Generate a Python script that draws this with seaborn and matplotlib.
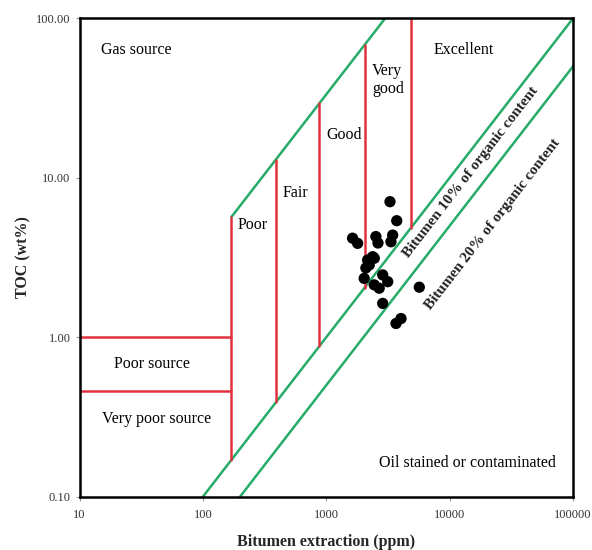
import numpy as np
import pandas as pd
import matplotlib
matplotlib.use("Agg")
import matplotlib.pyplot as plt
import seaborn as sns

# ---- data ----
bitumen_ppm = [3283, 3724, 1633, 1795, 2523, 2624, 3451, 3342, 2377, 2229,
               2028, 2866, 3148, 2449, 2685, 5675, 2866, 3673, 4033, 2094,
               2449, 2163]
toc_wt = [7.08, 5.38, 4.18, 3.88, 4.28, 3.90, 4.37, 3.97, 3.20, 2.84,
          2.34, 2.46, 2.23, 2.13, 2.03, 2.06, 1.63, 1.22, 1.31, 2.72,
          3.13, 3.05]

class_bounds_ppm = [170, 390, 880, 2050, 4850]   # Poor | Fair | Good | Very good | Excellent
toc_bounds = [1.0, 0.46]                         # Poor source / Very poor source limits
upper_ratio = 30      # upper boundary: ppm = 30 * TOC
ratio_10 = 1000       # Bitumen 10 % of organic content: ppm = 1000 * TOC
ratio_20 = 2000       # Bitumen 20 % of organic content: ppm = 2000 * TOC

x_ticks = [10, 100, 1000, 10000, 100000]
x_ticklabels = ["10", "100", "1000", "10000", "100000"]
y_ticks = [0.1, 1, 10, 100]
y_ticklabels = ["0.10", "1.00", "10.00", "100.00"]

# ---- style ----
sns.set_theme(style="white")
plt.rcParams['font.family'] = ['Liberation Serif', 'DejaVu Serif']

RED = "#e2323f"
GREEN = "#26ab68"

fig = plt.figure(figsize=(5.92, 5.5), dpi=100)
ax = fig.add_axes([0.1343, 0.0969, 0.968 - 0.1343, 0.9667 - 0.0969])
ax.set_xscale("log")
ax.set_yscale("log")
xmin, xmax = x_ticks[0], x_ticks[-1]
ymin, ymax = y_ticks[0], y_ticks[-1]
ax.set_xlim(xmin, xmax)
ax.set_ylim(ymin, ymax)

# green ratio lines
for r in (ratio_10, ratio_20):
    xs = np.array([ymin * r, min(xmax, ymax * r)])
    ax.plot(xs, xs / r, color=GREEN, lw=1.8, zorder=2)
xs_up = np.array([class_bounds_ppm[0], ymax * upper_ratio])
ax.plot(xs_up, xs_up / upper_ratio, color=GREEN, lw=1.8, zorder=2)

# red vertical class boundaries (from 10 % line up to upper boundary)
for b in class_bounds_ppm:
    ax.plot([b, b], [b / ratio_10, min(ymax, b / upper_ratio)], color=RED, lw=1.8, zorder=2)

# red horizontal TOC limits
for t in toc_bounds:
    ax.plot([xmin, class_bounds_ppm[0]], [t, t], color=RED, lw=1.8, zorder=2)

# points
df = pd.DataFrame({"Bitumen": bitumen_ppm, "TOC": toc_wt})
sns.scatterplot(data=df, x="Bitumen", y="TOC", ax=ax, color="black", s=66,
                edgecolor="none", zorder=3, legend=False)

# region labels
tk = dict(fontsize=11.5, color="black", zorder=4)
ax.text(15, 63, "Gas source", ha="left", va="center", **tk)
ax.text(7345, 63, "Excellent", ha="left", va="center", **tk)
ax.text(2345, 41, "Very\ngood", ha="left", va="center", linespacing=1.15, **tk)
ax.text(1010, 18.5, "Good", ha="left", va="center", **tk)
ax.text(440, 8.07, "Fair", ha="left", va="center", **tk)
ax.text(192, 5.06, "Poor", ha="left", va="center", **tk)
ax.text(38.8, 0.681, "Poor source", ha="center", va="center", **tk)
ax.text(41.9, 0.308, "Very poor source", ha="center", va="center", **tk)
ax.text(13870, 0.163, "Oil stained or contaminated", ha="center", va="center", **tk)

# rotated labels along the ratio lines
bbox = ax.get_position()
w_px = bbox.width * fig.get_figwidth() * fig.dpi
h_px = bbox.height * fig.get_figheight() * fig.dpi
ndx = np.log10(xmax / xmin)
ndy = np.log10(ymax / ymin)
angle = np.degrees(np.arctan((h_px / ndy) / (w_px / ndx)))
ax.text(14690, 10.9, "Bitumen 10% of organic content", rotation=angle,
        ha="center", va="center", rotation_mode="anchor", fontsize=11,
        fontweight="bold", color="#222222", zorder=4)
ax.text(22180, 5.13, "Bitumen 20% of organic content", rotation=angle,
        ha="center", va="center", rotation_mode="anchor", fontsize=11,
        fontweight="bold", color="#222222", zorder=4)

# axes styling
ax.set_xticks(x_ticks)
ax.set_xticklabels(x_ticklabels)
ax.set_yticks(y_ticks)
ax.set_yticklabels(y_ticklabels)
ax.minorticks_off()
ax.tick_params(axis="both", which="major", length=3, width=0.8, color="#999999",
               labelsize=9, labelcolor="#333333", direction="out", bottom=True, left=True)
ax.tick_params(axis="x", pad=6)
for s in ax.spines.values():
    s.set_color("black")
    s.set_linewidth(1.8)
ax.grid(False)
ax.set_xlabel("Bitumen extraction (ppm)", fontsize=11.5, fontweight="bold", labelpad=9)
ax.set_ylabel("TOC (wt%)", fontsize=11.5, fontweight="bold", labelpad=3)

fig.savefig("out.png", dpi=100)
